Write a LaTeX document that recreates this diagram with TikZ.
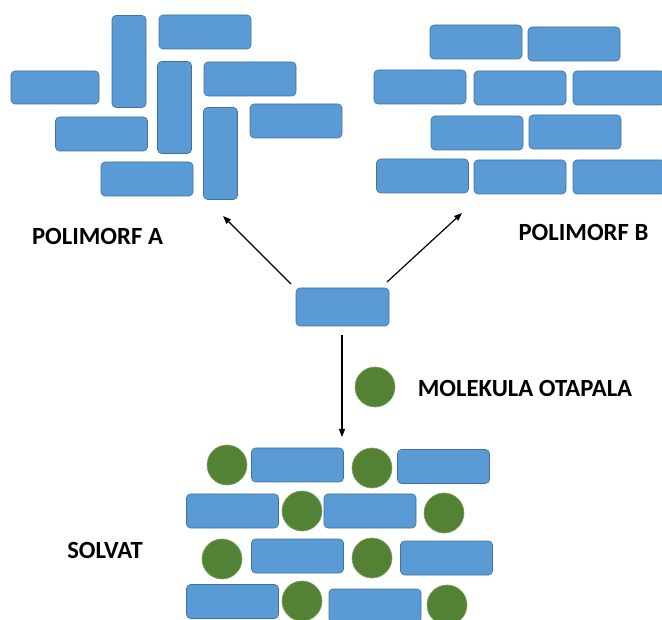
\documentclass[tikz,border=0pt]{standalone}
\usepackage{fontspec}
\setmainfont{Carlito}
\usetikzlibrary{arrows.meta}
\definecolor{molblue}{RGB}{91,155,213}
\definecolor{molline}{RGB}{65,113,156}
\definecolor{solvgreen}{RGB}{84,130,53}
\definecolor{solvline}{RGB}{125,160,105}

\begin{document}
\begin{tikzpicture}[x=1pt,y=-1pt,
  hmol/.style={draw=molline,fill=molblue,rounded corners=4pt,inner sep=0pt,line width=0.6pt,minimum width=92pt,minimum height=34pt},
  vmol/.style={hmol,minimum width=34pt,minimum height=92pt},
  solv/.style={circle,draw=solvline,fill=solvgreen,inner sep=0pt,line width=0.6pt,minimum size=40pt},
  lbl/.style={inner sep=0pt,font=\fontsize{24.7}{30}\selectfont\bfseries},
  arr/.style={-{Triangle[length=8pt,width=6pt]},line width=1.2pt}]
\useasboundingbox (0,0) rectangle (662,620);
% polimorf A
\node[vmol] (a1) at (129,61.5) {};
\node[hmol] (a2) at (205,32) {};
\node[hmol,minimum width=88pt,minimum height=33pt] (a3) at (55,87.5) {};
\node[vmol] (a4) at (174.5,107.5) {};
\node[hmol] (a5) at (250,79) {};
\node[hmol] (a6) at (101.5,134) {};
\node[vmol] (a7) at (220.5,153.5) {};
\node[hmol] (a8) at (296,121) {};
\node[hmol] (a9) at (147,179) {};
\node[lbl] (labA) at (97.5,236) {POLIMORF A};
% polimorf B
\node[hmol] (b1) at (476,42) {};
\node[hmol] (b2) at (574,44) {};
\node[hmol] (b3) at (420,87) {};
\node[hmol] (b4) at (520,88) {};
\node[hmol] (b5) at (619,88) {};
\node[hmol] (b6) at (477,133) {};
\node[hmol] (b7) at (575,132) {};
\node[hmol] (b8) at (422.5,176) {};
\node[hmol] (b9) at (520,177) {};
\node[hmol] (b10) at (619,177) {};
\node[lbl] (labB) at (583.5,232) {POLIMORF B};
% single molecule
\node[hmol,minimum width=93pt,minimum height=38pt] (mol) at (342.5,307) {};
\coordinate (tailA) at (291,284);
\coordinate (headA) at (223,216);
\coordinate (tailB) at (387,282);
\coordinate (headB) at (462,213);
\coordinate (tailS) at (342,335);
\coordinate (headS) at (342,437);
\draw[arr] (tailA) -- (headA);
\draw[arr] (tailB) -- (headB);
\draw[arr] (tailS) -- (headS);
% legend
\node[solv] (leg) at (375,387) {};
\node[lbl] (labLeg) at (525,388.5) {MOLEKULA OTAPALA};
% solvat
\node[solv] (m1) at (227,465) {};
\node[hmol] (s1) at (297.5,465) {};
\node[solv] (m2) at (372,468) {};
\node[hmol] (s2) at (443.5,466.5) {};
\node[hmol] (s3) at (232.5,511) {};
\node[solv] (m3) at (302,511) {};
\node[hmol] (s4) at (370,511) {};
\node[solv] (m4) at (444,513) {};
\node[solv] (m5) at (222,559) {};
\node[hmol] (s5) at (297.5,556) {};
\node[solv] (m6) at (372,558) {};
\node[hmol] (s6) at (446.5,558) {};
\node[hmol] (s7) at (232.5,601.5) {};
\node[solv] (m7) at (302,601) {};
\node[hmol] (s8) at (375,606) {};
\node[solv] (m8) at (447,605) {};
\node[lbl] (labS) at (105,550.5) {SOLVAT};
\end{tikzpicture}
\end{document}
